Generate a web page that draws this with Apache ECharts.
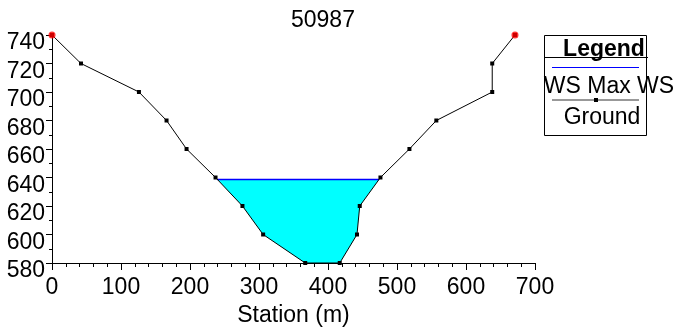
<!DOCTYPE html>
<html>
<head>
<meta charset="utf-8">
<script src="https://cdn.jsdelivr.net/npm/echarts@6/dist/echarts.min.js"></script>
<style>
  html, body { margin: 0; padding: 0; background: #fff; }
  #container { width: 679px; height: 329px; }
</style>
</head>
<body>
<div id="container"></div>
<script>
"use strict";

// 断面地面线 (Station, Elevation)
let stations = [0, 42, 126, 166, 195, 237, 276, 306, 367, 417, 442, 446, 476, 518, 557, 638, 638, 671];
let elevations = [740, 720, 700, 680, 660, 640, 620, 600, 580, 580, 600, 620, 640, 660, 680, 700, 720, 740];
// 岸边点（红点）
let bankStations = [0, 671];
let bankElevations = [740, 740];
// 最高水位
let wsElevation = 638.6;

// 坐标轴
let xMin = 0, xMax = 700, xInterval = 100;
let yMin = 580, yMax = 740, yInterval = 20;

let font = 'Liberation Sans, Arial, sans-serif';

let groundData = stations.map((s, i) => [s, elevations[i]]);
let bankData = bankStations.map((s, i) => [s, bankElevations[i]]);

// 水面与地面交点，得到水体多边形
function buildWater() {
    let poly = [];
    for (let i = 0; i < groundData.length - 1; i++) {
        let a = groundData[i], b = groundData[i + 1];
        if (a[1] < wsElevation) poly.push(a);
        if ((a[1] - wsElevation) * (b[1] - wsElevation) < 0) {
            let t = (wsElevation - a[1]) / (b[1] - a[1]);
            poly.push([a[0] + t * (b[0] - a[0]), wsElevation]);
        }
    }
    return poly;
}
let waterPoly = buildWater();
let wsLine = [waterPoly[0], waterPoly[waterPoly.length - 1]];

let myChart = echarts.init(document.getElementById('container'));

let option = {
    animation: false,
    title: {
        text: '50987',
        left: 291,
        top: 9,
        padding: 0,
        textStyle: { fontFamily: font, fontSize: 23, fontWeight: 'normal', color: '#000' },
    },
    grid: {
        left: 52,
        right: 144,
        top: 35,
        bottom: 66,
        outerBoundsMode: 'none',
    },
    xAxis: {
        type: 'value',
        min: xMin,
        max: xMax,
        interval: xInterval,
        name: 'Station (m)',
        nameLocation: 'middle',
        nameGap: 39,
        nameTextStyle: { fontFamily: font, fontSize: 23, color: '#000' },
        axisLine: { show: true, onZero: false, lineStyle: { color: '#000', width: 1 } },
        axisTick: { show: true, length: 7, lineStyle: { color: '#000' } },
        minorTick: { show: true, splitNumber: 5, length: 4, lineStyle: { color: '#000' } },
        splitLine: { show: false },
        axisLabel: { margin: 13, fontFamily: font, fontSize: 23, color: '#000' },
    },
    yAxis: {
        type: 'value',
        min: yMin,
        max: yMax,
        interval: yInterval,
        axisLine: { show: true, onZero: false, lineStyle: { color: '#000', width: 1 } },
        axisTick: { show: true, length: 6, lineStyle: { color: '#000' } },
        minorTick: { show: true, splitNumber: 2, length: 3, lineStyle: { color: '#000' } },
        splitLine: { show: false },
        axisLabel: { // 标签略低于刻度
            margin: 7,
            fontFamily: font,
            fontSize: 23,
            color: '#000',
            verticalAlign: 'top',
            lineHeight: 16,
        },
    },
    series: [
        { // 水体
            name: 'Water',
            type: 'custom',
            z: 1,
            data: [waterPoly[0]],
            renderItem: function (params, api) {
                let pts = waterPoly.map(p => api.coord(p));
                return {
                    type: 'polygon',
                    shape: { points: pts },
                    style: { fill: '#00FFFF', stroke: null },
                };
            },
        },
        {
            name: 'WS Max WS',
            type: 'line',
            z: 2,
            data: wsLine,
            symbol: 'none',
            lineStyle: { color: '#0000FF', width: 1.5 },
        },
        {
            name: 'Ground',
            type: 'line',
            z: 3,
            data: groundData,
            symbol: 'rect',
            symbolSize: 4,
            itemStyle: { color: '#000' },
            lineStyle: { color: '#000', width: 1 },
        },
        { // 岸边点
            name: 'Bank Sta',
            type: 'scatter',
            z: 4,
            data: bankData,
            symbol: 'circle',
            symbolSize: 7,
            itemStyle: { color: '#FF0000' },
        },
    ],
    graphic: [ // 图例框
        {
            type: 'rect',
            shape: { x: 544.5, y: 35.5, width: 102, height: 100 },
            style: { fill: '#fff', stroke: '#000', lineWidth: 1 },
            z: 10,
        },
        {
            type: 'text',
            x: 604, y: 50, z: 11,
            style: { text: 'Legend', font: 'bold 23px ' + font, fill: '#000', align: 'center', verticalAlign: 'middle' },
        },
        {
            type: 'line',
            shape: { x1: 544, y1: 57.5, x2: 648, y2: 57.5 },
            style: { stroke: '#000', lineWidth: 1 }, z: 11,
        },
        {
            type: 'line',
            shape: { x1: 552, y1: 67.5, x2: 639, y2: 67.5 },
            style: { stroke: '#0000FF', lineWidth: 1 }, z: 11,
        },
        {
            type: 'text',
            x: 609, y: 87, z: 11,
            style: { text: 'WS Max WS', font: '23px ' + font, fill: '#000', align: 'center', verticalAlign: 'middle' },
        },
        {
            type: 'line',
            shape: { x1: 552, y1: 100, x2: 639, y2: 100 },
            style: { stroke: '#333', lineWidth: 1 }, z: 11,
        },
        {
            type: 'rect',
            shape: { x: 594, y: 98, width: 4, height: 4 },
            style: { fill: '#000' }, z: 12,
        },
        {
            type: 'text',
            x: 602, y: 118, z: 11,
            style: { text: 'Ground', font: '23px ' + font, fill: '#000', align: 'center', verticalAlign: 'middle' },
        },
    ],
};

myChart.setOption(option);
</script>
</body>
</html>
